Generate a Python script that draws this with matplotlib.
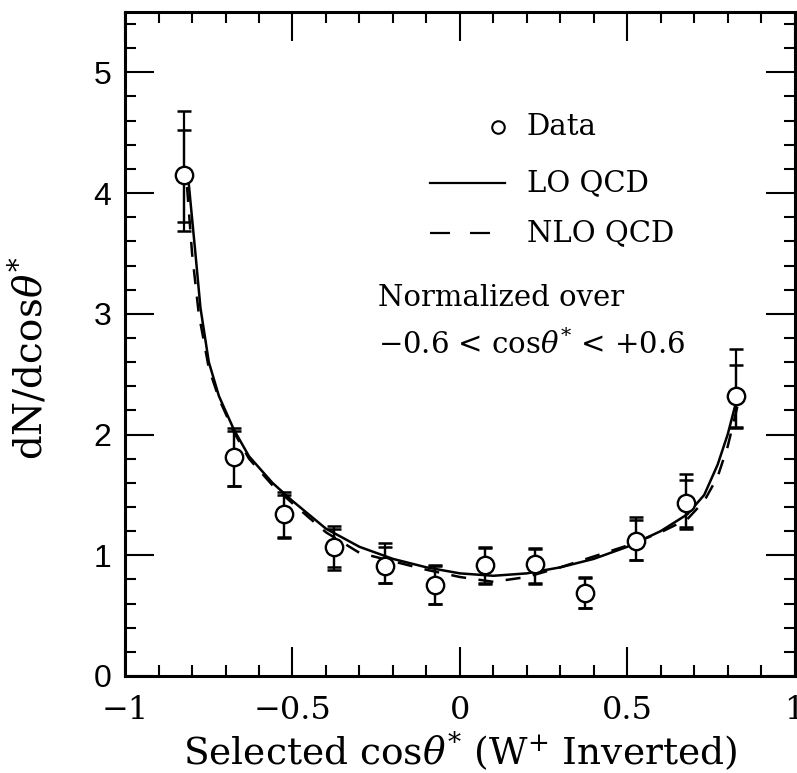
import numpy as np
import matplotlib
matplotlib.use('Agg')
import matplotlib.pyplot as plt
from matplotlib.ticker import MultipleLocator

plt.rcParams['font.family'] = ['DejaVu Serif']
plt.rcParams['mathtext.fontset'] = 'dejavuserif'

# Data points
cos_x = [-0.825, -0.675, -0.525, -0.375, -0.225, -0.075, 0.075, 0.225, 0.375, 0.525, 0.675, 0.825]
dn = [4.15, 1.81, 1.34, 1.07, 0.915, 0.75, 0.92, 0.93, 0.69, 1.12, 1.43, 2.32]
# inner (statistical) and outer (total) error bar ends
inner_hi = [4.52, 2.03, 1.50, 1.22, 1.07, 0.91, 1.06, 1.05, 0.81, 1.29, 1.62, 2.58]
inner_lo = [3.76, 1.57, 1.15, 0.90, 0.77, 0.60, 0.77, 0.77, 0.56, 0.96, 1.23, 2.06]
outer_hi = [4.68, 2.05, 1.52, 1.24, 1.10, 0.92, 1.07, 1.06, 0.82, 1.32, 1.67, 2.71]
outer_lo = [3.69, 1.57, 1.14, 0.88, 0.77, 0.60, 0.76, 0.76, 0.56, 0.96, 1.22, 2.05]

# LO QCD curve
lo_x = [-0.81, -0.79, -0.775, -0.75, -0.72, -0.675, -0.63, -0.56, -0.5, -0.4, -0.3, -0.2,
        -0.1, 0.0, 0.1, 0.2, 0.3, 0.4, 0.5, 0.6, 0.68, 0.73, 0.77, 0.80, 0.83]
lo_y = [4.08, 3.5, 3.05, 2.6, 2.32, 2.04, 1.82, 1.6, 1.45, 1.22, 1.07, 0.97,
        0.9, 0.85, 0.83, 0.85, 0.9, 0.97, 1.07, 1.2, 1.34, 1.5, 1.75, 2.0, 2.32]

# NLO QCD curve
nlo_x = [-0.815, -0.80, -0.78, -0.75, -0.72, -0.675, -0.63, -0.56, -0.5, -0.4, -0.3, -0.2,
         -0.1, 0.0, 0.1, 0.2, 0.3, 0.4, 0.5, 0.6, 0.68, 0.73, 0.77, 0.80, 0.835]
nlo_y = [4.05, 3.5, 3.0, 2.55, 2.3, 2.02, 1.8, 1.58, 1.43, 1.19, 1.02, 0.95,
         0.88, 0.82, 0.78, 0.82, 0.9, 0.99, 1.08, 1.19, 1.3, 1.45, 1.65, 1.9, 2.3]

fig = plt.figure(figsize=(7.97, 7.73), dpi=100)
ax = fig.add_axes([0.157, 0.1255, 0.84, 0.859])

ax.plot(lo_x, lo_y, color='black', lw=1.8, solid_capstyle='round')
ax.plot(nlo_x, nlo_y, color='black', lw=1.8, dashes=(6, 5))

x = np.array(cos_x)
y = np.array(dn)
ax.errorbar(x, y, yerr=[y - np.array(outer_lo), np.array(outer_hi) - y], fmt='none',
            ecolor='black', elinewidth=1.6, capsize=5, capthick=1.8)
ax.errorbar(x, y, yerr=[y - np.array(inner_lo), np.array(inner_hi) - y], fmt='none',
            ecolor='black', elinewidth=1.6, capsize=5, capthick=1.8)
ax.plot(x, y, 'o', ms=12.5, mfc='white', mec='black', mew=1.7, zorder=5)

ax.set_xlim(-1, 1)
ax.set_ylim(0, 5.5)
ax.xaxis.set_major_locator(MultipleLocator(0.5))
ax.xaxis.set_minor_locator(MultipleLocator(0.1))
ax.yaxis.set_major_locator(MultipleLocator(1))
ax.yaxis.set_minor_locator(MultipleLocator(0.2))
ax.set_xticks([-1, -0.5, 0, 0.5, 1])
ax.set_xticklabels(['\u22121', '\u22120.5', '0', '0.5', '1'])
ax.tick_params(which='both', direction='in', top=True, right=True, width=1.5)
ax.tick_params(which='major', length=21)
ax.tick_params(which='minor', length=8)
ax.tick_params(axis='x', which='major', labelsize=23, pad=14)
ax.tick_params(axis='y', which='major', labelsize=23, pad=10)
for lab in ax.get_yticklabels():
    lab.set_family('Liberation Sans')
for s in ax.spines.values():
    s.set_linewidth(2.2)

ax.set_xlabel(r'Selected cos$\theta^{*}$ (W$^{+}$ Inverted)', fontsize=27, labelpad=2)
ax.set_ylabel(r'dN/dcos$\theta^{*}$', fontsize=28)
ax.yaxis.set_label_coords(-0.112, 0.479)

# legend drawn by hand
ax.plot([0.557], [0.827], 'o', ms=9, mfc='white', mec='black', mew=1.5, transform=ax.transAxes)
ax.text(0.60, 0.827, 'Data', fontsize=21, va='center', transform=ax.transAxes)
ax.plot([0.455, 0.567], [0.742, 0.742], color='black', lw=1.6, transform=ax.transAxes)
ax.text(0.60, 0.742, 'LO QCD', fontsize=21, va='center', transform=ax.transAxes)
ax.plot([0.455, 0.567], [0.667, 0.667], color='black', lw=1.6, dashes=(9, 9), transform=ax.transAxes)
ax.text(0.60, 0.667, 'NLO QCD', fontsize=21, va='center', transform=ax.transAxes)

ax.text(0.378, 0.569, 'Normalized over', fontsize=21, va='center', transform=ax.transAxes)
ax.text(0.378, 0.4985, r'$-$0.6 < cos$\theta^{*}$ < +0.6', fontsize=21, va='center',
        transform=ax.transAxes)

fig.savefig('out.png', dpi=100)
